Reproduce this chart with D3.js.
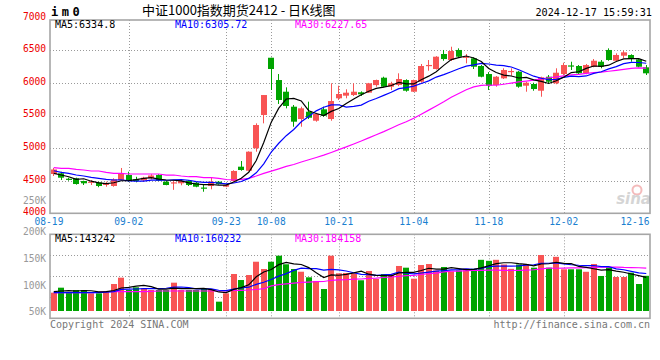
<!DOCTYPE html>
<html><head><meta charset="utf-8">
<script src="https://cdn.jsdelivr.net/npm/d3@7"></script>
<style>body{margin:0;background:#fff}svg{display:block}</style>
</head><body><svg id="c" width="660" height="360"></svg>
<script>
// ---------- DATA ----------
const dates = ["08-19","08-20","08-21","08-22","08-23","08-26","08-27","08-28","08-29","08-30",
"09-02","09-03","09-04","09-05","09-06","09-09","09-10","09-11","09-12","09-13",
"09-18","09-19","09-20","09-23","09-24","09-25","09-26","09-27","09-30",
"10-08","10-09","10-10","10-11","10-14","10-15","10-16","10-17","10-18",
"10-21","10-22","10-23","10-24","10-25","10-28","10-29","10-30","10-31","11-01",
"11-04","11-05","11-06","11-07","11-08","11-11","11-12","11-13","11-14","11-15",
"11-18","11-19","11-20","11-21","11-22","11-25","11-26","11-27","11-28","11-29",
"12-02","12-03","12-04","12-05","12-06","12-09","12-10","12-11","12-12","12-13",
"12-16","12-17"];
const opens  = [4603,4613,4530,4537,4495,4475,4475,4434,4419,4511,
4587,4521,4505,4537,4587,4485,4468,4460,4500,4469,
4395,4419,4485,4408,4495,4715,4653,4997,5508,
6386,6044,5865,5635,5446,5558,5420,5595,5446,
5764,5804,5814,5856,5850,5966,6080,5942,5968,6044,
5865,6018,6270,6213,6443,6351,6505,6395,6377,6259,
6136,5968,6070,6180,6172,5957,5983,5880,6095,5994,
6136,6268,6259,6147,6248,6325,6505,6340,6417,6428,
6361,6239];
const highs  = [4695,4638,4546,4546,4500,4511,4485,4485,4537,4695,
4638,4560,4560,4600,4600,4500,4500,4510,4510,4480,
4449,4546,4495,4449,4660,4802,4950,5380,5814,
6386,6136,5932,5661,5635,5712,5540,5635,5994,
5957,5902,5994,5870,6000,6050,6095,6018,6147,6055,
6050,6290,6351,6410,6505,6555,6530,6443,6393,6274,
6166,6106,6224,6224,6183,6018,6003,6095,6121,6224,
6310,6325,6274,6290,6366,6351,6530,6454,6494,6439,
6377,6274];
const lows   = [4572,4511,4500,4440,4434,4434,4400,4408,4408,4511,
4485,4475,4485,4521,4495,4430,4360,4430,4419,4400,
4331,4368,4440,4400,4485,4653,4645,4945,5380,
5891,5677,5610,5328,5328,5446,5405,5482,5420,
5738,5764,5799,5800,5845,5942,5932,5891,5950,5865,
5860,6003,6187,6205,6340,6336,6393,6300,6213,6086,
5891,5942,6060,6110,5926,5865,5880,5788,5994,5980,
6120,6198,6121,6132,6240,6224,6340,6331,6377,6325,
6240,6121];
const closes = [4672,4546,4521,4449,4460,4485,4419,4460,4521,4613,
4500,4495,4546,4580,4500,4434,4475,4495,4434,4408,
4388,4485,4449,4434,4649,4664,4945,5354,5814,
6213,5738,5646,5405,5610,5466,5523,5497,5722,
5830,5850,5865,5825,5994,6044,5942,5994,6060,5880,
6044,6259,6275,6402,6366,6489,6402,6402,6248,6095,
5957,6095,6198,6183,5942,6003,5906,6086,6018,6156,
6274,6260,6147,6274,6340,6248,6351,6428,6469,6366,
6248,6147];
// volume, lots
const volumes = [88000,97400,88000,93000,93000,86800,86800,89800,104300,116200,
93000,98100,96200,93000,93000,93000,106800,93000,93000,93000,
94900,94900,71100,86800,123100,111800,121200,146200,132500,
146200,157500,141400,132500,127400,116900,110000,94900,157500,
124400,125000,124400,111300,128800,113700,123100,121200,138200,135000,
114300,140000,141900,129700,136300,127800,129700,132900,132900,149800,
147900,149800,141000,132900,141000,141900,135000,158800,135000,155400,
132000,132000,132000,127300,141900,119400,135900,117500,117500,125600,
104300,119700];
const ma5Head  = [4613,4587,4561,4521];
const ma10Head = [4653,4629,4613,4587,4572,4552,4537,4521,4511];
const ma30Head = [4700,4690,4690,4675,4664,4649,4649,4629,4613,4613,4603,4603,4603,4603,4603,
4587,4587,4572,4561,4561,4546,4546,4537,4518,4511,4521,4537,4572,4613];
const vma5Head  = [89900,91200,91700,91200];
const vma10Head = [88000,88000,88000,88000,88000,88000,88000,89000,90000];
const vma30Head = [88000,88000,88000,88000,88000,88000,88500,89900,89900,89900,89900,89900,89900,
90500,91200,91200,91200,91200,91200,91200,91200,91200,91200,91200,92100,92500,93000,94000,95500];
const priceTicks = [4000,4500,5000,5500,6000,6500,7000];
const volTicks = [200000,150000,100000,50000];
const volTickLabels = ["200K","150K","100K","50K"];
const dateTicks = ["08-19","09-02","09-23","10-08","10-21","11-04","11-18","12-02","12-16"];
const title = "中证1000指数期货2412 - 日K线图";
const code = "im0";
const stamp = "2024-12-17 15:59:31";
const priceMA = ["MA5:6334.8","MA10:6305.72","MA30:6227.65"];
const volMA = ["MA5:143242","MA10:160232","MA30:184158"];

// ---------- LAYOUT ----------
const L = 50, R = 650, PT = 20, PB = 213.3, VT = 234.3, VB = 318.3;
const MONO = "'DejaVu Sans Mono', monospace";
const RED = "#f85454", GREEN = "#00a400", GRID = "#9a9a9a";
const svg = d3.select("#c");

const x = d3.scaleBand().domain(dates).range([L, R]).paddingInner(0.2).paddingOuter(0.1);
const bw = x.bandwidth();
const cx = d => x(d) + bw / 2;
const y = d3.scaleLinear().domain([4000, 7000]).range([PB, 17.7]);
const vy = d3.scaleLinear().domain([50000, 200000]).range([312.9, 233.1]);
const volFloor = vy.invert(311);

function ma(arr, n, head) {
  return arr.map((_, i) => i < head.length ? head[i] : d3.mean(arr.slice(i - n + 1, i + 1)));
}
const ma5 = ma(closes, 5, ma5Head), ma10 = ma(closes, 10, ma10Head), ma30 = ma(closes, 30, ma30Head);
const vma5 = ma(volumes, 5, vma5Head), vma10 = ma(volumes, 10, vma10Head), vma30 = ma(volumes, 30, vma30Head);

// ---------- GRID ----------
const g = svg.append("g");
g.selectAll(".hg").data(priceTicks.filter(t => t > 4000 && t < 7000)).join("line")
  .attr("x1", L).attr("x2", R).attr("y1", d => Math.round(y(d)) + 0.5).attr("y2", d => Math.round(y(d)) + 0.5)
  .attr("stroke", GRID).attr("stroke-dasharray", "1,2");
[1, 2, 3].forEach(k => {
  const yy = Math.round(VT + (VB - VT) * k / 4) + 0.5;
  g.append("line").attr("x1", L).attr("x2", R).attr("y1", yy).attr("y2", yy)
    .attr("stroke", GRID).attr("stroke-dasharray", "1,2");
});
const vGrid = dateTicks.slice(1, -1);
[[PT, PB], [VT, VB]].forEach(([a, b]) => {
  g.selectAll(null).data(vGrid).join("line")
    .attr("x1", d => Math.round(cx(d)) + 0.5).attr("x2", d => Math.round(cx(d)) + 0.5)
    .attr("y1", a).attr("y2", b).attr("stroke", GRID).attr("stroke-dasharray", "1,2");
});

// ---------- CANDLES ----------
const idx = d3.range(dates.length);
const cg = svg.append("g");
cg.selectAll(".wick").data(idx).join("rect")
  .attr("x", i => Math.round(cx(dates[i]) - 0.5))
  .attr("width", 1)
  .attr("y", i => y(highs[i]))
  .attr("height", i => y(lows[i]) - y(highs[i]))
  .attr("fill", i => closes[i] >= opens[i] ? RED : GREEN);
cg.selectAll(".body").data(idx).join("rect")
  .attr("x", i => Math.round(x(dates[i])))
  .attr("width", Math.round(bw))
  .attr("y", i => y(Math.max(opens[i], closes[i])))
  .attr("height", i => Math.max(1.2, Math.abs(y(opens[i]) - y(closes[i]))))
  .attr("fill", i => closes[i] >= opens[i] ? RED : GREEN);

// ---------- VOLUME ----------
svg.append("g").selectAll("rect").data(idx).join("rect")
  .attr("x", i => Math.round(x(dates[i])))
  .attr("width", Math.round(bw))
  .attr("y", i => vy(volumes[i]))
  .attr("height", i => vy(volFloor) - vy(volumes[i]))
  .attr("fill", i => closes[i] >= opens[i] ? RED : GREEN);

// ---------- MA LINES ----------
const pline = d3.line().x((d, i) => cx(dates[i])).y(d => y(d));
const vline = d3.line().x((d, i) => cx(dates[i])).y(d => vy(d));
[[ma30, "#ff00ff"], [ma10, "#0000ff"], [ma5, "#000"]].forEach(([s, c]) =>
  svg.append("path").attr("d", pline(s)).attr("fill", "none").attr("stroke", c).attr("stroke-width", 1.2));
[[vma30, "#ff00ff"], [vma10, "#0000ff"], [vma5, "#000"]].forEach(([s, c]) =>
  svg.append("path").attr("d", vline(s)).attr("fill", "none").attr("stroke", c).attr("stroke-width", 1.2));

// ---------- BORDERS ----------
[[PT, PB], [VT, VB]].forEach(([a, b]) =>
  svg.append("rect").attr("x", L).attr("y", a).attr("width", R - L).attr("height", b - a)
    .attr("fill", "none").attr("stroke", "#a6a6a6").attr("stroke-width", 1.6));

// ---------- AXIS TEXT ----------
const t = svg.append("g").attr("font-family", MONO);
t.selectAll(".pt").data(priceTicks).join("text")
  .attr("x", 46).attr("y", d => y(d) - 1.5).attr("dy", "0.35em").attr("text-anchor", "end")
  .attr("font-size", 9.6).attr("fill", "#ee0000").text(d => d);
t.selectAll(".vt").data(volTicks).join("text")
  .attr("x", 46).attr("y", (d, i) => vy(d) - 1).attr("dy", "0.35em").attr("text-anchor", "end")
  .attr("font-size", 9.6).attr("fill", "#999").text((d, i) => volTickLabels[i]);
t.append("text").attr("x", 46).attr("y", 200.5).attr("dy", "0.35em").attr("text-anchor", "end")
  .attr("font-size", 9.6).attr("fill", "#999").text("250K");
t.selectAll(".dt").data(dateTicks).join("text")
  .attr("x", (d, i) => i === 0 ? L - 1 : Math.min(cx(d), R - 15))
  .attr("y", 221.7).attr("dy", "0.35em").attr("text-anchor", "middle")
  .attr("font-size", 9.6).attr("fill", "#1a80d0").text(d => d);

// headers
const pmx = [55, 175, 295], pmc = ["#000", "#0000ff", "#ff00ff"];
t.selectAll(".pm").data(priceMA).join("text")
  .attr("x", (d, i) => pmx[i]).attr("y", 24).attr("dy", "0.35em")
  .attr("font-size", 10).attr("fill", (d, i) => pmc[i]).text(d => d);
t.selectAll(".vm").data(volMA).join("text")
  .attr("x", (d, i) => pmx[i]).attr("y", 238.5).attr("dy", "0.35em")
  .attr("font-size", 10).attr("fill", (d, i) => pmc[i]).text(d => d);

t.append("text").attr("x", 51).attr("y", 12).attr("dy", "0.35em").attr("font-size", 12)
  .attr("font-weight", "bold").attr("letter-spacing", 3.5).attr("fill", "#000").text(code);
svg.append("text").attr("x", 142).attr("y", 10.5).attr("dy", "0.35em")
  .attr("font-family", "'Noto Sans CJK SC', sans-serif").attr("font-size", 13).attr("fill", "#000").text(title);
t.append("text").attr("x", 652).attr("y", 12).attr("dy", "0.35em").attr("text-anchor", "end")
  .attr("font-size", 10.2).attr("fill", "#000").text(stamp);
t.append("text").attr("x", 50).attr("y", 324).attr("dy", "0.35em")
  .attr("font-size", 10).attr("fill", "#777").text("Copyright 2024 SINA.COM");
t.append("text").attr("x", 650).attr("y", 324).attr("dy", "0.35em").attr("text-anchor", "end")
  .attr("font-size", 10).attr("fill", "#777").text("http://finance.sina.com.cn");

// watermark
const wm = svg.append("g").attr("opacity", 0.35);
wm.append("circle").attr("cx", 637).attr("cy", 190).attr("r", 4.5).attr("fill", "none").attr("stroke", "#e04040").attr("stroke-width", 2);
wm.append("text").attr("x", 651).attr("y", 204).attr("text-anchor", "end").attr("font-family", "'DejaVu Sans', sans-serif")
  .attr("font-size", 15).attr("font-style", "italic").attr("font-weight", "bold").attr("fill", "#888").text("sina");
</script></body></html>
